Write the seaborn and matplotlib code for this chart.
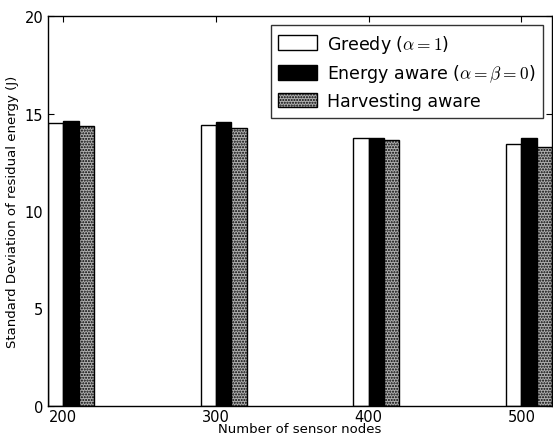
import matplotlib
matplotlib.use("Agg")
import matplotlib.pyplot as plt
import seaborn as sns
import pandas as pd

nodes = [200, 300, 400, 500]
greedy = [14.50, 14.39, 13.76, 13.45]
energy_aware = [14.63, 14.56, 13.76, 13.74]
harvesting_aware = [14.37, 14.25, 13.67, 13.31]
series_labels = [r"Greedy ($\alpha=1$)", r"Energy aware ($\alpha=\beta=0$)", "Harvesting aware"]

bar_w = 10
offsets = [-bar_w / 2, bar_w / 2, 3 * bar_w / 2]
rows = []
for lab, vals, off in zip(series_labels, [greedy, energy_aware, harvesting_aware], offsets):
    for n, v in zip(nodes, vals):
        rows.append({"pos": n + off, "val": v, "series": lab})
df = pd.DataFrame(rows)

sns.set_style("ticks")
plt.rcParams["font.family"] = ["DejaVu Sans"]
plt.rcParams["mathtext.fontset"] = "cm"
plt.rcParams["text.color"] = "black"
plt.rcParams["axes.labelcolor"] = "black"
plt.rcParams["xtick.color"] = "black"
plt.rcParams["ytick.color"] = "black"

fig = plt.figure(figsize=(5.53, 4.39), dpi=100)
ax = fig.add_axes([0.087, 0.073, 0.911, 0.888])

sns.barplot(data=df, x="pos", y="val", hue="series", hue_order=series_labels,
            native_scale=True, dodge=False, width=1.0,
            palette=["white", "black", "#b0b0b0"], edgecolor="black",
            linewidth=1.0, saturation=1, legend=False, ax=ax, errorbar=None)

for p in ax.containers[2]:
    p.set_hatch("......")

ax.set_xlim(190, 520)
ax.set_ylim(0, 20)
ax.set_xticks(nodes)
ax.set_xticklabels([str(n) for n in nodes])
ax.set_yticks([0, 5, 10, 15, 20])
ax.tick_params(direction="in", top=True, right=True, labelsize=10.5, length=4)
ax.tick_params(axis="x", pad=2)
for s in ax.spines.values():
    s.set_visible(True)
    s.set_color("black")
    s.set_linewidth(1.0)
ax.set_xlabel("Number of sensor nodes", fontsize=9.5, labelpad=-1)
ax.set_ylabel("Standard Deviation of residual energy (J)", fontsize=9.5)

leg = ax.legend(ax.containers, series_labels, loc="upper right", fontsize=12.5,
                frameon=True, fancybox=False, edgecolor="black",
                borderaxespad=0.5, borderpad=0.45, handlelength=2.2,
                handleheight=0.9, labelspacing=0.45, handletextpad=0.6)
leg.get_frame().set_linewidth(1.0)

fig.savefig("out.png", dpi=100)
